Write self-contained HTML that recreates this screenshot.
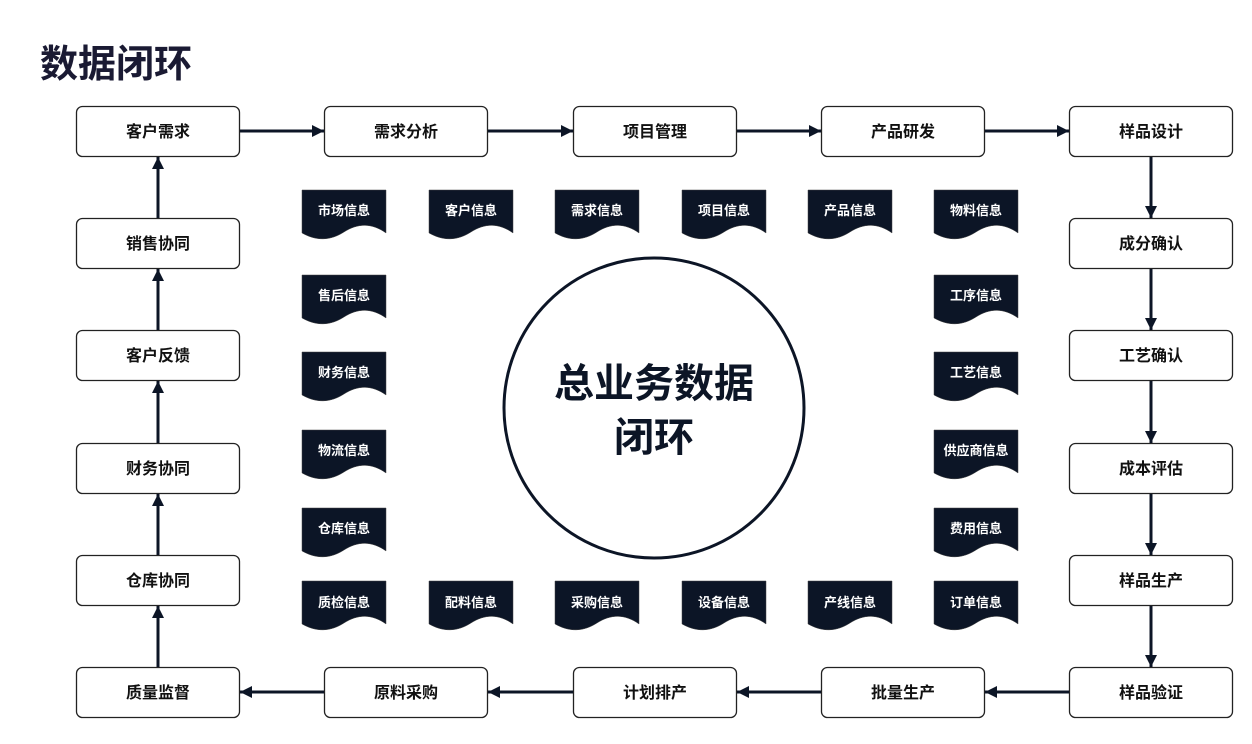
<!DOCTYPE html>
<html><head><meta charset="utf-8"><style>
html,body{margin:0;padding:0;background:#fff;}
svg{display:block}
text{font-family:"Liberation Sans","Noto Sans CJK SC",sans-serif;font-weight:bold;}
</style></head><body>
<svg width="1252" height="744" viewBox="0 0 1252 744" xmlns="http://www.w3.org/2000/svg">
<defs>
<marker id="ah" viewBox="0 0 10 10" refX="10" refY="5" markerWidth="4" markerHeight="4" markerUnits="strokeWidth" orient="auto">
<path d="M0,0 L10,5 L0,10 Z" fill="#0c1526"/></marker>
<path id="doc" d="M0,0 H84 V43 C70,33 56,33 42,42 C28,51 14,51 0,43 Z" fill="#0c1526" stroke="#444" stroke-width="0.5"/>
</defs>
<text x="40" y="77" font-size="38" fill="#1a1a33">数据闭环</text>

<g fill="#fff" stroke="#222" stroke-width="1.3">
<rect x="76.5" y="106.5" width="163" height="50" rx="6"/>
<rect x="324.5" y="106.5" width="163" height="50" rx="6"/>
<rect x="573.5" y="106.5" width="163" height="50" rx="6"/>
<rect x="821.5" y="106.5" width="163" height="50" rx="6"/>
<rect x="1069.5" y="106.5" width="163" height="50" rx="6"/>
<rect x="76.5" y="218.5" width="163" height="50" rx="6"/>
<rect x="76.5" y="330.5" width="163" height="50" rx="6"/>
<rect x="76.5" y="443.5" width="163" height="50" rx="6"/>
<rect x="76.5" y="555.5" width="163" height="50" rx="6"/>
<rect x="1069.5" y="218.5" width="163" height="50" rx="6"/>
<rect x="1069.5" y="330.5" width="163" height="50" rx="6"/>
<rect x="1069.5" y="443.5" width="163" height="50" rx="6"/>
<rect x="1069.5" y="555.5" width="163" height="50" rx="6"/>
<rect x="76.5" y="667.5" width="163" height="50" rx="6"/>
<rect x="324.5" y="667.5" width="163" height="50" rx="6"/>
<rect x="573.5" y="667.5" width="163" height="50" rx="6"/>
<rect x="821.5" y="667.5" width="163" height="50" rx="6"/>
<rect x="1069.5" y="667.5" width="163" height="50" rx="6"/>
</g>
<g font-size="16" fill="#111" text-anchor="middle">
<text x="158" y="137">客户需求</text>
<text x="406" y="137">需求分析</text>
<text x="655" y="137">项目管理</text>
<text x="903" y="137">产品研发</text>
<text x="1151" y="137">样品设计</text>
<text x="158" y="249">销售协同</text>
<text x="158" y="361">客户反馈</text>
<text x="158" y="474">财务协同</text>
<text x="158" y="586">仓库协同</text>
<text x="1151" y="249">成分确认</text>
<text x="1151" y="361">工艺确认</text>
<text x="1151" y="474">成本评估</text>
<text x="1151" y="586">样品生产</text>
<text x="158" y="698">质量监督</text>
<text x="406" y="698">原料采购</text>
<text x="655" y="698">计划排产</text>
<text x="903" y="698">批量生产</text>
<text x="1151" y="698">样品验证</text>
</g>
<g stroke="#0c1526" stroke-width="3" marker-end="url(#ah)">
<line x1="240" y1="131" x2="324" y2="131"/>
<line x1="488" y1="131" x2="573" y2="131"/>
<line x1="737" y1="131" x2="821" y2="131"/>
<line x1="985" y1="131" x2="1069" y2="131"/>
<line x1="1069" y1="692" x2="985" y2="692"/>
<line x1="821" y1="692" x2="737" y2="692"/>
<line x1="573" y1="692" x2="488" y2="692"/>
<line x1="324" y1="692" x2="240" y2="692"/>
<line x1="158" y1="218" x2="158" y2="157"/>
<line x1="158" y1="330" x2="158" y2="269"/>
<line x1="158" y1="443" x2="158" y2="381"/>
<line x1="158" y1="555" x2="158" y2="494"/>
<line x1="158" y1="667" x2="158" y2="606"/>
<line x1="1151" y1="157" x2="1151" y2="218"/>
<line x1="1151" y1="269" x2="1151" y2="330"/>
<line x1="1151" y1="381" x2="1151" y2="443"/>
<line x1="1151" y1="494" x2="1151" y2="555"/>
<line x1="1151" y1="606" x2="1151" y2="667"/>
</g>
<g>
<use href="#doc" x="302" y="190"/><use href="#doc" x="429" y="190"/><use href="#doc" x="555" y="190"/>
<use href="#doc" x="682" y="190"/><use href="#doc" x="808" y="190"/><use href="#doc" x="934" y="190"/>
<use href="#doc" x="302" y="275"/><use href="#doc" x="302" y="352"/><use href="#doc" x="302" y="430"/><use href="#doc" x="302" y="508"/>
<use href="#doc" x="934" y="275"/><use href="#doc" x="934" y="352"/><use href="#doc" x="934" y="430"/><use href="#doc" x="934" y="508"/>
<use href="#doc" x="302" y="581"/><use href="#doc" x="429" y="581"/><use href="#doc" x="555" y="581"/>
<use href="#doc" x="682" y="581"/><use href="#doc" x="808" y="581"/><use href="#doc" x="934" y="581"/>
</g>
<g font-size="13" fill="#fff" text-anchor="middle">
<text x="344" y="215">市场信息</text><text x="471" y="215">客户信息</text><text x="597" y="215">需求信息</text>
<text x="724" y="215">项目信息</text><text x="850" y="215">产品信息</text><text x="976" y="215">物料信息</text>
<text x="344" y="300">售后信息</text><text x="344" y="377">财务信息</text><text x="344" y="455">物流信息</text><text x="344" y="533">仓库信息</text>
<text x="976" y="300">工序信息</text><text x="976" y="377">工艺信息</text><text x="976" y="455">供应商信息</text><text x="976" y="533">费用信息</text>
<text x="344" y="607">质检信息</text><text x="471" y="607">配料信息</text><text x="597" y="607">采购信息</text>
<text x="724" y="607">设备信息</text><text x="850" y="607">产线信息</text><text x="976" y="607">订单信息</text>
</g>
<circle cx="654" cy="408" r="150" fill="#fff" stroke="#0c1526" stroke-width="3"/>
<g font-size="40" fill="#0c1526" text-anchor="middle">
<text x="654" y="397">总业务数据</text>
<text x="654" y="451">闭环</text>
</g>
</svg>
</body></html>
